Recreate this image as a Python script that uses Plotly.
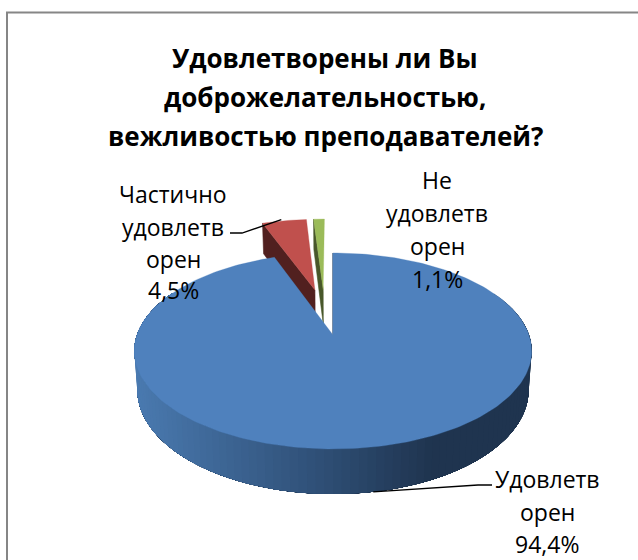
import math
import plotly.graph_objects as go

TITLE_LINES = ["Удовлетворены ли Вы", "доброжелательностью,", "вежливостью преподавателей?"]
CATEGORY_LINES = [["Удовлетв", "орен"], ["Частично", "удовлетв", "орен"], ["Не", "удовлетв", "орен"]]
VALUES = [94.4, 4.5, 1.1]
TOP_COLORS = ["#4F81BD", "#C0504D", "#9BBB59"]
CUT_COLORS = ["#2B4464", "#51201F", "#48572A"]

W, H = 638, 560
FONT = "Open Sans"
# projection of the tilted pie into the page
CX, CY, RX, RY, PERSP, DEPTH, SHRINK = 333, 335, 196, 95.4, 0.163, 37.7, 0.015
EXPLODE = 0.26


def project(u, v, z=0.0):
    d = 1 + PERSP * v
    s = 1 - SHRINK * z
    return CX + RX * u * s / d, CY - (RY * v - DEPTH * z) / d


def mix(a, b, t):
    return "rgb(%d,%d,%d)" % tuple(round(a[i] + (b[i] - a[i]) * t) for i in range(3))


fig = go.Figure()


def poly(points, color, line=0.6):
    xs, ys = zip(*points)
    fig.add_trace(go.Scatter(x=list(xs) + [xs[0]], y=list(ys) + [ys[0]], mode="lines", fill="toself",
                             fillcolor=color, line=dict(color=color, width=line), hoverinfo="skip",
                             showlegend=False))


def stroke(points, color="#000000", width=1.5):
    xs, ys = zip(*points)
    fig.add_trace(go.Scatter(x=list(xs), y=list(ys), mode="lines", line=dict(color=color, width=width),
                             hoverinfo="skip", showlegend=False))


# slice angles, clockwise from twelve o'clock
total = sum(VALUES)
spans = []
start = 0.0
for val in VALUES:
    spans.append((start, start + val / total * 360))
    start += val / total * 360
mids = [(a + b) / 2 for a, b in spans]


def dirn(deg):
    return math.sin(math.radians(deg)), math.cos(math.radians(deg))


bu, bv = dirn(mids[0])
C0 = (-EXPLODE * bu, -EXPLODE * bv)  # pie centre relative to the blue apex
centres = []
for m in mids:
    mu, mv = dirn(m)
    centres.append((C0[0] + EXPLODE * mu, C0[1] + EXPLODE * mv))


def rim(i, deg, z=0.0):
    u, v = dirn(deg)
    return project(centres[i][0] + u, centres[i][1] + v, z)


def apex(i, z=0.0):
    return project(centres[i][0], centres[i][1], z)


def arc(i, a, b, n, z=0.0):
    return [rim(i, a + (b - a) * k / n, z) for k in range(n + 1)]


# back slices first: red and green, cut face then top
for i in (1, 2):
    a, b = spans[i]
    poly([rim(i, a), apex(i), apex(i, 1), rim(i, a, 1)], CUT_COLORS[i])
    poly([apex(i)] + arc(i, a, b, 12), TOP_COLORS[i], line=0.3)

# front slice: shaded wall, each band overlapping the rest so no seams show
a, b = spans[0]
LEFT_SHADE, MID_SHADE, RIGHT_SHADE = (74, 122, 176), (45, 76, 114), (31, 52, 79)
N = 110
lo, hi = 62.0, 298.0
for k in range(N):
    d0 = lo + (hi - lo) * k / N
    d1 = lo + (hi - lo) * (k + 1) / N
    x_norm = (rim(0, (d0 + d1) / 2)[0] - 134) / 398
    if x_norm < 0.5:
        col = mix(LEFT_SHADE, MID_SHADE, x_norm / 0.5)
    elif x_norm < 0.75:
        col = mix(MID_SHADE, RIGHT_SHADE, (x_norm - 0.5) / 0.25)
    else:
        col = mix(RIGHT_SHADE, RIGHT_SHADE, 0)
    poly(arc(0, d0, hi, 100) + arc(0, hi, d0, 100, 1), col, line=0)
stroke([apex(0), rim(0, a)], CUT_COLORS[0], 1.2)
poly([apex(0)] + arc(0, a, b, 240), TOP_COLORS[0], line=0.3)

# frame: only the top and left rules are inside the picture
stroke([(7, H), (7, 12.5), (W, 12.5)], "#868686", 2)

# leader lines
stroke([(492, 485), (478, 485), rim(0, mids[0], 1)], "#000000", 1.3)
red_anchor = rim(1, mids[1])
stroke([(230, 233), (242, 233), (red_anchor[0] - 3, red_anchor[1] - 1)], "#000000", 1.3)


def pct(v):
    return f"{v:.1f}%".replace(".", ",")


def text_block(lines, x, ys, size, bold=False):
    for line, y in zip(lines, ys):
        fig.add_annotation(x=x, y=y, text=f"<b>{line}</b>" if bold else line, showarrow=False,
                           xanchor="center", yanchor="middle",
                           font=dict(family=FONT, size=size, color="#000000"))


text_block(TITLE_LINES, 325, [58, 97, 136], 26, bold=True)
text_block(CATEGORY_LINES[1] + [pct(VALUES[1])], 173, [194, 227, 259, 290], 23)
text_block(CATEGORY_LINES[2] + [pct(VALUES[2])], 437, [180, 213, 246, 279], 23)
text_block(CATEGORY_LINES[0] + [pct(VALUES[0])], 547, [479, 512, 544], 23)

fig.update_layout(width=W, height=H, margin=dict(l=0, r=0, t=0, b=0), paper_bgcolor="white",
                  plot_bgcolor="white", showlegend=False,
                  xaxis=dict(range=[0, W], visible=False, fixedrange=True),
                  yaxis=dict(range=[H, 0], visible=False, fixedrange=True))
fig.write_html("out.html", config={"displayModeBar": False},
               post_script="document.body.style.margin='0';document.body.style.overflow='hidden';")
